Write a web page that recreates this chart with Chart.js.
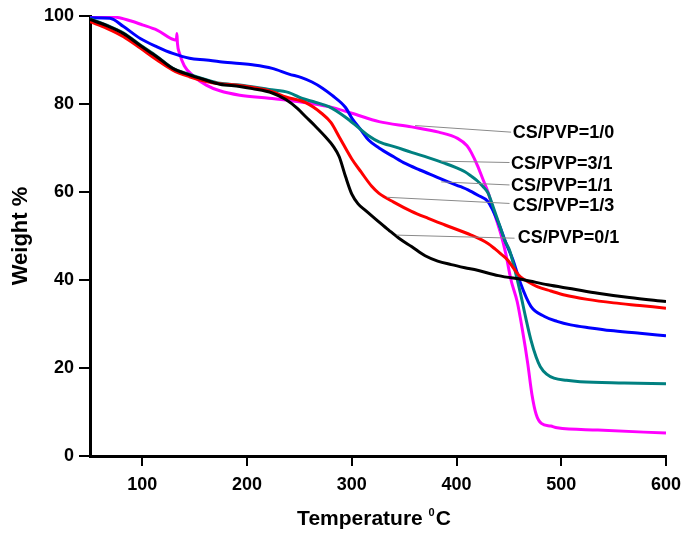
<!DOCTYPE html>
<html>
<head>
<meta charset="utf-8">
<script src="https://cdn.jsdelivr.net/npm/chart.js@4.4.0/dist/chart.umd.min.js"></script>
<style>
  html, body { margin: 0; padding: 0; background: #fff; }
  #c { display: block; }
</style>
</head>
<body>
<canvas id="c" width="689" height="536"></canvas>
<script>
// TGA curves: temperature (°C) and weight (%)
const temp01 = [50,66,82,98,114,129,145,161,174,193,205,224,237,248,256,265,275,282,288,294,300,306,313,323,335,346,357,370,382,395,408,420,440,465,487,510,535,565,600];
const wt01   = [99.2,97.8,96,93.3,90.7,88.1,86.6,85.4,84.5,84,83.5,82.5,81,79,77.1,75,72.5,70.5,68,63.5,59.5,57.3,55.8,53.8,51.4,49.3,47.6,45.5,44.3,43.5,42.8,42.2,41,40,38.9,38,37,36,35.1];

const temp13 = [50,66,82,98,114,129,145,161,174,193,224,237,256,271,280,288,300,309,319,326,340,357,373,389,414,430,437,442,449,455,461,469,477,490,503,525,550,575,600];
const wt13   = [98.7,97.2,95.3,92.7,90,87.7,86.2,85.1,84.6,84.2,82.8,81.6,80.3,77.9,75.8,72.5,67.5,64.5,61.3,59.7,57.7,55.6,54,52.5,50.2,48.3,47,46,44.5,42.5,40.7,39.5,38.5,37.5,36.6,35.6,34.8,34.2,33.6];

const temp31 = [50,66,82,98,114,129,145,161,174,193,221,240,252,265,278,294,307,316,326,342,357,373,389,399,408,414,420,425,430,436,441,446,451,456,461,466,471,476,480,486,493,505,518,560,600];
const wt31   = [99.4,97.9,96.1,93.4,90.8,88.1,86.7,85.5,84.7,84.3,83.3,82.6,81.3,80.4,79.4,77,74.5,72.8,71.4,70.2,69,67.8,66.5,65.6,64.6,63.6,62.5,61.3,59.8,55.9,52.5,49,46.5,42,37,31.5,26.4,22.5,20.3,18.6,17.7,17.2,16.9,16.6,16.4];

const temp11 = [50,69,82,98,114,129,145,161,174,193,205,224,240,252,262,272,281,294,300,309,316,326,340,351,365,380,392,404,411,420,430,440,447,454,461,471,484,496,509,528,547,575,600];
const wt11   = [99.6,99.5,97.6,94.9,93,91.5,90.4,90,89.6,89.2,88.9,88.1,86.8,86,85,83.6,82,79.2,76.8,74,71.8,70,68,66.5,65,63.5,62.3,61.2,60.5,59.3,57.8,53,48.5,44.5,39.3,34,31.7,30.6,29.8,29.1,28.5,27.9,27.3];

const temp10 = [50,65,78,90,100,114,132.5,133,133.5,135.5,140,148,161,174,193,221,250,278,300,326,357,383,401,410,414,420,425,430,435,442,447,452,458,463,468,472,476,481,490,496,535,600];
const wt10   = [100,100,99.6,98.8,98,96.8,94.5,96,93.8,91.5,88.7,86.5,84.3,83,82,81.3,80.5,79.4,77.9,76,74.8,73.6,72.2,70.5,69,66,63,60,56,50.7,46,40,35,28.5,21,14,9.5,7.4,6.8,6.4,5.9,5.2];

const seriesNames  = ['CS/PVP=0/1', 'CS/PVP=1/3', 'CS/PVP=3/1', 'CS/PVP=1/1', 'CS/PVP=1/0'];
const seriesColors = ['#000000', '#ff0000', '#008080', '#0000ff', '#ff00ff'];
const seriesTemps  = [temp01, temp13, temp31, temp11, temp10];
const seriesWts    = [wt01, wt13, wt31, wt11, wt10];

const xTicks = [100, 200, 300, 400, 500, 600];

// leader lines (start T, start W, end T, end W) and label anchors, in data units
const labelText  = ['CS/PVP=1/0', 'CS/PVP=3/1', 'CS/PVP=1/1', 'CS/PVP=1/3', 'CS/PVP=0/1'];
const leaderFrom = [[360.4, 75.1], [385.4, 67.0], [385.4, 62.3], [333.4, 58.8], [342.9, 50.2]];
const leaderTo   = [[452.1, 73.6], [450.6, 66.7], [450.6, 61.6], [450.6, 57.4], [455.4, 49.5]];
const labelAt    = [[453.7, 73.4], [451.9, 66.4], [451.9, 61.4], [453.7, 56.7], [458.5, 49.5]];

const FONT = '"Liberation Sans", Arial, sans-serif';

const datasets = seriesNames.map((name, i) => ({
    label: name,
    data: seriesTemps[i].map((t, j) => ({ x: t, y: seriesWts[i][j] })),
    borderColor: seriesColors[i],
    borderWidth: 3,
    pointRadius: 0,
    fill: false,
    cubicInterpolationMode: 'monotone'
}));

const textPlugin = {
    id: 'tgaText',
    afterDraw(chart) {
        const ctx = chart.ctx;
        const xs = chart.scales.x, ys = chart.scales.y;
        const area = chart.chartArea;
        ctx.save();

        // leader lines
        ctx.strokeStyle = '#8a8a8a';
        ctx.lineWidth = 1;
        leaderFrom.forEach((p, i) => {
            ctx.beginPath();
            ctx.moveTo(xs.getPixelForValue(p[0]), ys.getPixelForValue(p[1]));
            ctx.lineTo(xs.getPixelForValue(leaderTo[i][0]), ys.getPixelForValue(leaderTo[i][1]));
            ctx.stroke();
        });

        // labels
        ctx.fillStyle = '#000';
        ctx.font = 'bold 18px ' + FONT;
        ctx.textAlign = 'left';
        ctx.textBaseline = 'middle';
        labelText.forEach((t, i) => {
            ctx.fillText(t, xs.getPixelForValue(labelAt[i][0]), ys.getPixelForValue(labelAt[i][1]));
        });

        // x title with superscript 0
        const main = 'bold 21px ' + FONT, sup = 'bold 11px ' + FONT;
        ctx.font = main;
        const w1 = ctx.measureText('Temperature ').width;
        const w3 = ctx.measureText('C').width;
        ctx.font = sup;
        const w2 = ctx.measureText('0').width + 1;
        const cx = (area.left + area.right) / 2 - 4;
        let x0 = cx - (w1 + w2 + w3) / 2;
        const base = area.bottom + 69;
        ctx.textBaseline = 'alphabetic';
        ctx.font = main;
        ctx.fillText('Temperature ', x0, base);
        ctx.font = sup;
        ctx.fillText('0', x0 + w1, base - 9);
        ctx.font = main;
        ctx.fillText('C', x0 + w1 + w2, base);

        // y title
        ctx.translate(27, (area.top + area.bottom) / 2);
        ctx.rotate(-Math.PI / 2);
        ctx.font = 'bold 22px ' + FONT;
        ctx.textAlign = 'center';
        ctx.fillText('Weight %', 0, 0);
        ctx.restore();
    }
};

new Chart(document.getElementById('c').getContext('2d'), {
    type: 'line',
    data: { datasets: datasets },
    options: {
        responsive: false,
        animation: false,
        layout: { padding: { left: 0, right: 20, top: 16, bottom: 0 } },
        plugins: { legend: { display: false }, tooltip: { enabled: false } },
        scales: {
            x: {
                type: 'linear',
                min: 50,
                max: 600,
                afterBuildTicks: (scale) => { scale.ticks = xTicks.map(v => ({ value: v })); },
                afterFit: (scale) => { scale.height = 80; },
                ticks: { color: '#000', font: { family: FONT, size: 18, weight: 'bold' }, padding: 8, maxRotation: 0 },
                grid: { drawOnChartArea: false, drawTicks: true, tickLength: 10, color: '#000', lineWidth: 2 },
                border: { display: true, color: '#000', width: 3 }
            },
            y: {
                min: 0,
                max: 100,
                afterFit: (scale) => { scale.width = 90; },
                ticks: { stepSize: 20, color: '#000', font: { family: FONT, size: 18, weight: 'bold' }, padding: 5 },
                grid: { drawOnChartArea: false, drawTicks: true, tickLength: 11, color: '#000', lineWidth: 2 },
                border: { display: true, color: '#000', width: 3 }
            }
        }
    },
    plugins: [textPlugin]
});
</script>
</body>
</html>
